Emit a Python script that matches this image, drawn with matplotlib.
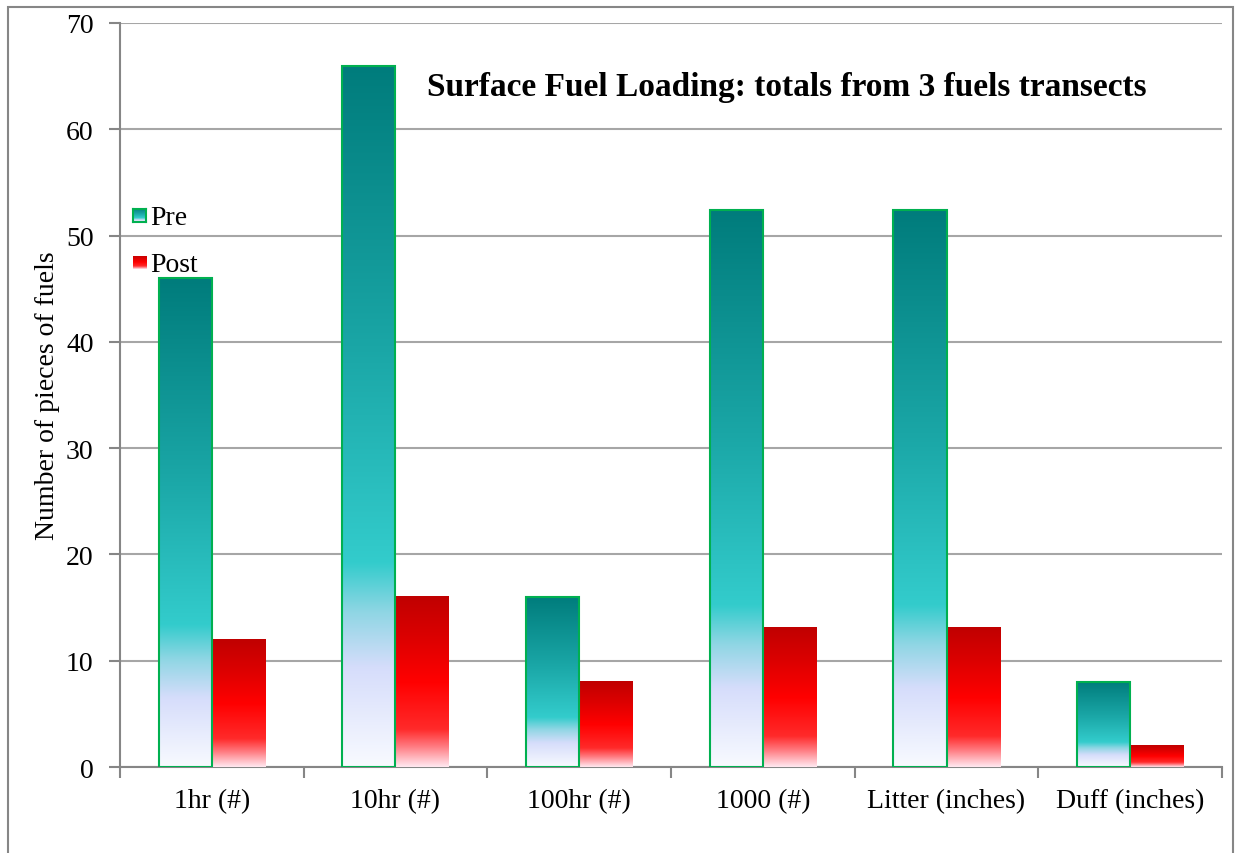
import numpy as np
import matplotlib.pyplot as plt
from matplotlib.colors import LinearSegmentedColormap
from matplotlib.patches import Rectangle

plt.rcParams.update({
    "font.family": ["Liberation Serif", "DejaVu Serif"],
    "font.size": 20,
})

categories = ["1hr (#)", "10hr (#)", "100hr (#)", "1000 (#)", "Litter (inches)", "Duff (inches)"]
pre_values = [46, 66, 16, 52.4, 52.4, 8]
post_values = [12, 16, 8, 13.1, 13.1, 2]
series_names = ["Pre", "Post"]

# gradients, bottom -> top
PRE_CMAP = LinearSegmentedColormap.from_list("pre", [
    (0.00, "#f8faff"), (0.14, "#d6ddfb"), (0.22, "#8fd6e4"),
    (0.29, "#33cccc"), (0.60, "#1aa6a6"), (1.00, "#007c7c")])
POST_CMAP = LinearSegmentedColormap.from_list("post", [
    (0.00, "#ffe8f0"), (0.12, "#ff7a80"), (0.22, "#ff2a2a"),
    (0.50, "#ff0000"), (0.75, "#dd0000"), (1.00, "#c00000")])
PRE_EDGE = "#00b050"
GRID = "#a6a6a6"
SPINE = "#868686"

GRAD = np.linspace(0, 1, 256).reshape(-1, 1)


def gradient_bar(ax, x0, width, height, cmap, edge=None):
    ax.imshow(GRAD, extent=[x0, x0 + width, 0, height], origin="lower",
              cmap=cmap, aspect="auto", interpolation="bicubic", zorder=3)
    if edge:
        ax.add_patch(Rectangle((x0, 0), width, height, fill=False,
                               edgecolor=edge, linewidth=1.5, zorder=4))


fig = plt.figure(figsize=(12.38, 8.54), dpi=100)
ax = fig.add_axes([0.0969, 0.1007, 0.8902, 0.8712])

w = 0.29
x = np.arange(len(categories))
for i in x:
    gradient_bar(ax, i - w, w, pre_values[i], PRE_CMAP, edge=PRE_EDGE)
    gradient_bar(ax, i, w, post_values[i], POST_CMAP)

ax.set_xlim(-0.5, len(categories) - 0.5)
ax.set_ylim(0, 70)
ax.set_yticks(range(0, 71, 10))
ax.set_xticks(x)
ax.set_xticklabels(categories)
ax.set_xticks(np.arange(-0.5, len(categories), 1), minor=True)
ax.tick_params(axis="x", which="major", length=0, pad=15)
ax.tick_params(axis="x", which="minor", length=8, width=1.5, color=SPINE)
ax.tick_params(axis="y", length=8, width=1.5, color=SPINE, pad=11)
ax.grid(axis="y", color=GRID, linewidth=1.5, zorder=0)
ax.set_axisbelow(True)
for side in ("top", "right"):
    ax.spines[side].set_visible(False)
for side in ("left", "bottom"):
    ax.spines[side].set_color(SPINE)
    ax.spines[side].set_linewidth(1.5)

ax.set_ylabel("Number of pieces of fuels", fontsize=20, labelpad=4)

ax.text(0.2786, 0.915, "Surface Fuel Loading: totals from 3 fuels transects",
        transform=ax.transAxes, fontsize=24, fontweight="bold", va="center", ha="left")

# legend drawn by hand (gradient swatches)
leg_y = [0.738, 0.675]
for name, cmap, edge, yy in zip(series_names, [PRE_CMAP, POST_CMAP], [PRE_EDGE, None], leg_y):
    sw = ax.inset_axes([0.0118, yy - 0.006, 0.0118, 0.0175])
    sw.imshow(GRAD, origin="lower", cmap=cmap, aspect="auto", extent=[0, 1, 0, 1])
    sw.set_xticks([]); sw.set_yticks([])
    for s in sw.spines.values():
        s.set_visible(edge is not None)
        if edge:
            s.set_color(edge); s.set_linewidth(1.5)
    ax.text(0.027, yy, name, transform=ax.transAxes, fontsize=20, va="center", ha="left")

# outer chart border
fig.patches.append(Rectangle((8 / 1238, -0.05), (1233 - 8) / 1238, 1.05 - 8 / 854,
                             transform=fig.transFigure, fill=False,
                             edgecolor=SPINE, linewidth=1.5))

fig.savefig("out.png", dpi=100)
